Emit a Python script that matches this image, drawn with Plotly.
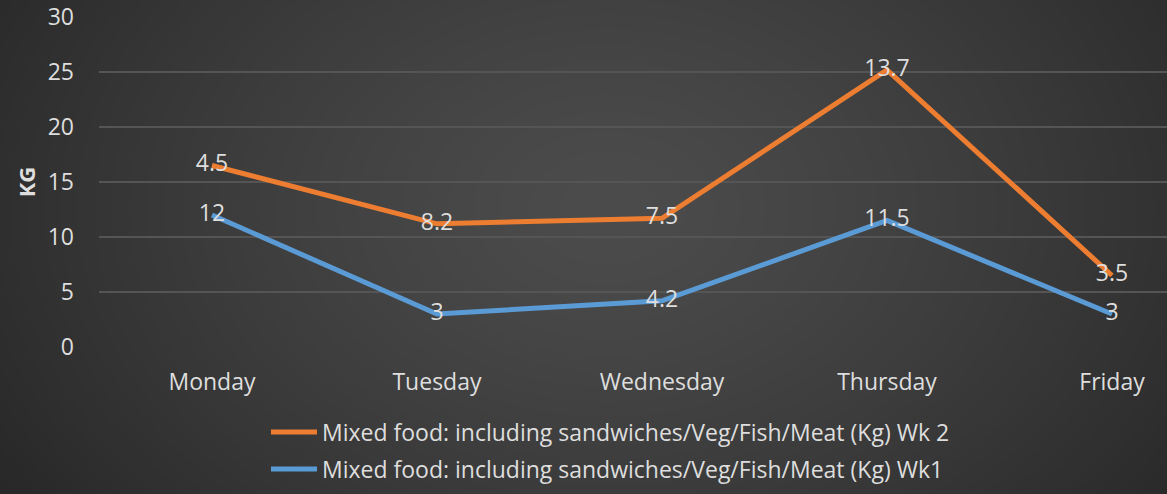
import base64
import struct
import zlib

import numpy as np
import plotly.graph_objects as go

# Daily waste, KG
days = ["Monday", "Tuesday", "Wednesday", "Thursday", "Friday"]
wk1 = [12, 3, 4.2, 11.5, 3]
wk2 = [4.5, 8.2, 7.5, 13.7, 3.5]
y_ticks = [0, 5, 10, 15, 20, 25, 30]

name_wk2 = "Mixed food: including sandwiches/Veg/Fish/Meat (Kg) Wk 2"
name_wk1 = "Mixed food: including sandwiches/Veg/Fish/Meat (Kg) Wk1"

ORANGE = "#ED7D31"
BLUE = "#5B9BD5"
TEXT = "#DEDEDE"
GRID = "#555555"
FONT = "'Open Sans', sans-serif"
FS = 23

W, H = 1167, 494

# Wk 2 line is stacked on top of Wk1
wk2_top = (np.array(wk1) + np.array(wk2)).round(2)


def radial_bg_png(w, h):
    """Dark radial gradient background as a PNG data URI."""
    yy, xx = np.mgrid[0:h, 0:w].astype(float)
    cx, cy = w * 0.52, h * 0.42
    r = np.sqrt(((xx - cx) / (w * 0.62)) ** 2 + ((yy - cy) / (h * 1.05)) ** 2)
    r = np.clip(r, 0, 1)
    inner, outer = 76.0, 40.0
    v = (inner + (outer - inner) * r ** 1.3).astype(np.uint8)
    raw = b"".join(b"\x00" + bytes(np.repeat(row, 3)) for row in v)

    def chunk(tag, data):
        c = struct.pack(">I", len(data)) + tag + data
        return c + struct.pack(">I", zlib.crc32(tag + data) & 0xFFFFFFFF)

    png = b"\x89PNG\r\n\x1a\n"
    png += chunk(b"IHDR", struct.pack(">IIBBBBB", w, h, 8, 2, 0, 0, 0))
    png += chunk(b"IDAT", zlib.compress(raw, 9))
    png += chunk(b"IEND", b"")
    return "data:image/png;base64," + base64.b64encode(png).decode()


fig = go.Figure()

fig.add_trace(go.Scatter(
    x=days, y=wk2_top, name=name_wk2, legend="legend",
    mode="lines+text", text=[str(v) for v in wk2],
    textposition="middle center",
    textfont=dict(family=FONT, size=FS, color=TEXT),
    line=dict(color=ORANGE, width=5),
))
fig.add_trace(go.Scatter(
    x=days, y=wk1, name=name_wk1, legend="legend2",
    mode="lines+text", text=[str(v) for v in wk1],
    textposition="middle center",
    textfont=dict(family=FONT, size=FS, color=TEXT),
    line=dict(color=BLUE, width=5),
))

legend_style = dict(
    font=dict(family=FONT, size=FS, color=TEXT),
    bgcolor="rgba(0,0,0,0)", xanchor="left", yanchor="middle",
    itemwidth=46,
)

fig.update_layout(
    width=W, height=H,
    margin=dict(l=0, r=0, t=0, b=0, autoexpand=False),
    paper_bgcolor="#333333",
    plot_bgcolor="rgba(0,0,0,0)",
    font=dict(family=FONT, size=FS, color=TEXT),
    showlegend=True,
    legend=dict(x=266 / W, y=1 - 432 / H, **legend_style),
    legend2=dict(x=266 / W, y=1 - 469 / H, **legend_style),
    xaxis=dict(
        domain=[99 / W, 1.0], automargin=False,
        range=[-0.502, (W - 212) / 225],
        showgrid=False, zeroline=False, showline=False,
        ticks="", ticklabelstandoff=19,
        tickfont=dict(family=FONT, size=FS, color=TEXT),
    ),
    yaxis=dict(
        domain=[1 - 347 / H, 1 - 17 / H], automargin=False,
        range=[0, 30], tickvals=y_ticks,
        showgrid=True, gridcolor=GRID, gridwidth=1.5,
        zeroline=False, showline=False, ticks="",
        ticklabelstandoff=24,
        tickfont=dict(family=FONT, size=FS, color=TEXT),
        title=dict(text="<b>KG</b>", standoff=5,
                   font=dict(family=FONT, size=FS - 1, color=TEXT)),
    ),
    images=[dict(
        source=radial_bg_png(W, H), xref="paper", yref="paper",
        x=0, y=1, sizex=1, sizey=1, xanchor="left", yanchor="top",
        sizing="stretch", layer="below",
    )],
)

fig.write_html("out.html")
